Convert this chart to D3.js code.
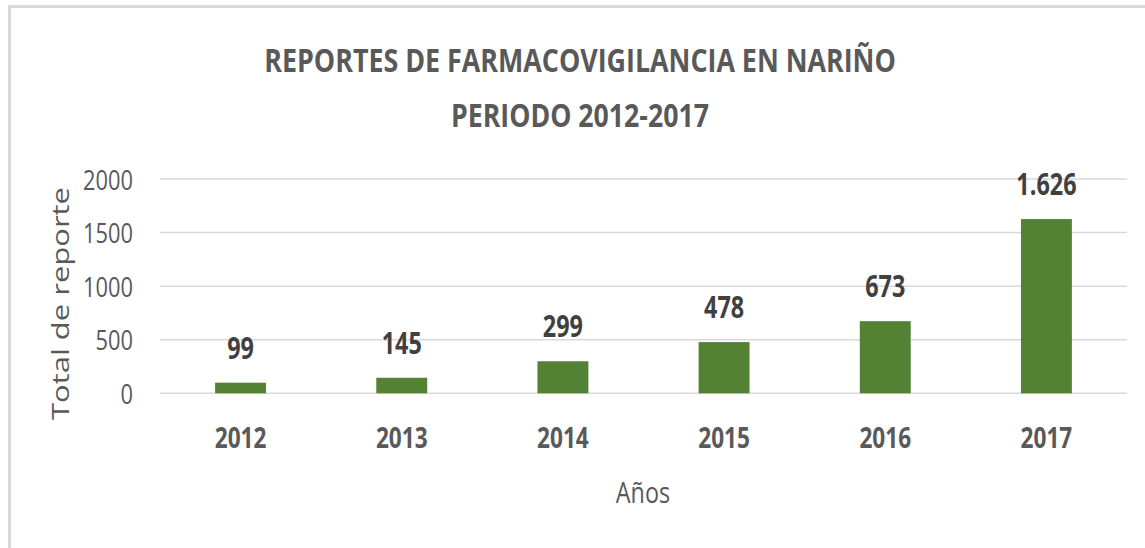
<!DOCTYPE html>
<html>
<head>
<meta charset="utf-8">
<script src="https://cdn.jsdelivr.net/npm/d3@7"></script>
<style>
  html, body { margin: 0; padding: 0; background: #ffffff; }
  svg { display: block; }
  text { font-family: "Open Sans", "Noto Sans", sans-serif; }
</style>
</head>
<body>
<svg id="chart" width="1145" height="548"></svg>
<script>
// Reports per year
const years = ["2012", "2013", "2014", "2015", "2016", "2017"];
const reports = [99, 145, 299, 478, 673, 1626];
const valueLabels = ["99", "145", "299", "478", "673", "1.626"];
const yTicks = [0, 500, 1000, 1500, 2000];
const titleLines = ["REPORTES DE FARMACOVIGILANCIA EN NARIÑO", "PERIODO 2012-2017"];
const xTitle = "Años";
const yTitle = "Total de reporte";

const svg = d3.select("#chart");
const textColor = "#595959";
const gridColor = "#d9d9d9";
const barColor = "#548235";
const SX = 0.78; // horizontal squeeze applied to all lettering

// frame
svg.append("rect").attr("x", 0).attr("y", 0).attr("width", 1145).attr("height", 548).attr("fill", "#fff");
svg.append("rect").attr("x", 8).attr("y", 5).attr("width", 1137).attr("height", 3).attr("fill", gridColor);
svg.append("rect").attr("x", 8).attr("y", 5).attr("width", 3).attr("height", 543).attr("fill", gridColor);

const x = d3.scaleBand().domain(years).range([160, 1127]).paddingInner(0.684).paddingOuter(0.342);
const y = d3.scaleLinear().domain([0, 2000]).range([393.3, 179]);

// place a text node at (px,py) with the shared horizontal squeeze
function placeText(sel, px, py, extra) {
  sel.attr("x", 0).attr("y", 0)
     .attr("transform", `translate(${px},${py}) scale(${SX},1)` + (extra || ""));
}

// gridlines + y ticks
const yAxis = d3.axisLeft(y).tickValues(yTicks).tickSize(0).tickFormat(d3.format("d"));
const gy = svg.append("g").attr("transform", "translate(160,0)").call(yAxis);
gy.select(".domain").remove();
gy.selectAll(".tick text")
  .attr("dy", null)
  .attr("fill", textColor)
  .attr("font-size", 28)
  .attr("text-anchor", "end")
  .each(function () { placeText(d3.select(this), -27, 10); });

svg.append("g").selectAll("line").data(yTicks).join("line")
  .attr("x1", 160).attr("x2", 1127)
  .attr("y1", d => y(d)).attr("y2", d => y(d))
  .attr("stroke", gridColor).attr("stroke-width", 1.5);

// bars
svg.append("g").selectAll("rect").data(years).join("rect")
  .attr("x", d => x(d))
  .attr("width", x.bandwidth())
  .attr("y", (d, i) => y(reports[i]))
  .attr("height", (d, i) => y(0) - y(reports[i]))
  .attr("fill", barColor);

// value labels
svg.append("g").selectAll("text").data(years).join("text")
  .text((d, i) => valueLabels[i])
  .attr("text-anchor", "middle")
  .attr("font-weight", "bold")
  .attr("font-size", 30)
  .attr("fill", "#404040")
  .each(function (d, i) { placeText(d3.select(this), x(d) + x.bandwidth() / 2, y(reports[i]) - 24); });

// x axis labels
const xAxis = d3.axisBottom(x).tickSize(0);
const gx = svg.append("g").attr("transform", `translate(0,${y(0)})`).call(xAxis);
gx.select(".domain").remove();
gx.selectAll(".tick text")
  .attr("dy", null)
  .attr("fill", textColor)
  .attr("font-size", 29)
  .attr("font-weight", "bold")
  .attr("text-anchor", "middle")
  .each(function () { placeText(d3.select(this), 0, 55); });

// axis titles
placeText(svg.append("text").text(xTitle)
  .attr("text-anchor", "middle").attr("font-size", 30).attr("fill", textColor), 643, 503);

const yt = svg.append("text").text(yTitle)
  .attr("text-anchor", "middle").attr("font-size", 31).attr("fill", textColor);
placeText(yt, 69, 303.5, " rotate(-90)");
yt.attr("textLength", 233).attr("lengthAdjust", "spacingAndGlyphs");

// chart title
const titleY = [72, 127];
const titleW = [632, 258];
titleLines.forEach((t, i) => {
  const el = svg.append("text").text(t)
    .attr("text-anchor", "middle").attr("font-size", 32).attr("font-weight", "bold")
    .attr("fill", textColor)
    .attr("x", 0).attr("y", 0);
  const w = el.node().getComputedTextLength();
  el.attr("transform", `translate(580,${titleY[i]}) scale(${titleW[i] / w},1)`);
});
</script>
</body>
</html>
